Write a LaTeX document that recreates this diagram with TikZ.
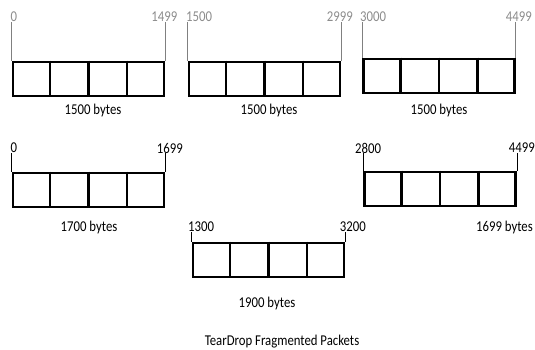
\documentclass[tikz,border=0pt]{standalone}
\usepackage{fontspec}
\setmainfont{Carlito}[FakeStretch=0.85]
\usetikzlibrary{calc}
\begin{document}
\begin{tikzpicture}[x=1pt,y=-1pt,
  pkt/.style={draw, line width=2.6pt, minimum width=151pt, minimum height=34pt, inner sep=0pt},
  divider/.style={line width=2.6pt},
  lab/.style={inner sep=0pt, font=\fontsize{15}{18}\selectfont},
  glab/.style={lab, text=black!45},
  gtick/.style={draw=black!50, line width=0.8pt},
  btick/.style={draw=black, line width=0.6pt}]
\useasboundingbox (0,0) rectangle (535,350);
\newcommand{\fourcells}[1]{%
  \foreach \f in {0.25,0.5,0.75}
    \draw[divider] ($(#1.north west)!\f!(#1.north east)$) -- ($(#1.south west)!\f!(#1.south east)$);}
% boxes
\node[pkt] (b1) at (88.5,79) {};
\node[pkt] (b2) at (264.5,79) {};
\node[pkt] (b3) at (439,76) {};
\node[pkt] (b4) at (88.5,190) {};
\node[pkt] (b5) at (440,189) {};
\node[pkt] (b6) at (268.5,260) {};
\fourcells{b1}\fourcells{b2}\fourcells{b3}\fourcells{b4}\fourcells{b5}\fourcells{b6}
% top row offsets
\node[glab, anchor=west] (l1) at (10.5,17) {0};
\node[glab, anchor=east] (r1) at (177.5,17) {1499};
\node[glab, anchor=west] (l2) at (186,17) {1500};
\node[glab, anchor=east] (r2) at (353,17) {2999};
\node[glab, anchor=west] (l3) at (360,17) {3000};
\node[glab, anchor=east] (r3) at (532,17) {4499};
\draw[gtick] (b1.north west) -- (b1.north west |- l1.south);
\draw[gtick] (b1.north east) -- (b1.north east |- r1.south);
\draw[gtick] (b2.north west) -- (b2.north west |- l2.south);
\draw[gtick] (b2.north east) -- (b2.north east |- r2.south);
\draw[gtick] (b3.north west) -- (b3.north west |- l3.south);
\draw[gtick] (b3.north east) -- (b3.north east |- r3.south);
% top row sizes
\node[lab] (s1) at (93,111) {1500 bytes};
\node[lab] (s2) at (269,111) {1500 bytes};
\node[lab] (s3) at (439,111) {1500 bytes};
% second row
\node[lab, anchor=west] (l4) at (10.5,148) {0};
\node[lab, anchor=east] (r4) at (183,148) {1699};
\node[lab, anchor=west] (l5) at (355,148) {2800};
\node[lab, anchor=east] (r5) at (535,148) {4499};
\draw[btick] (b4.north west) -- (b4.north west |- l4.south);
\draw[btick] (b4.north east) -- (b4.north east |- r4.south);
\draw[btick] (b5.north west) -- (b5.north west |- l5.south);
\draw[btick] (b5.north east) -- (b5.north east |- r5.south);
\node[lab] (s4) at (89,227) {1700 bytes};
\node[lab, anchor=east] (s5) at (533,227) {1699 bytes};
% third
\node[lab, anchor=west] (l6) at (188,227) {1300};
\node[lab, anchor=east] (r6) at (366,227) {3200};
\draw[btick] (b6.north west) -- (b6.north west |- l6.south);
\draw[btick] (b6.north east) -- (b6.north east |- r6.south);
\node[lab] (s6) at (267,303) {1900 bytes};
\node[lab] (cap) at (282,342) {TearDrop Fragmented Packets};
\end{tikzpicture}
\end{document}
